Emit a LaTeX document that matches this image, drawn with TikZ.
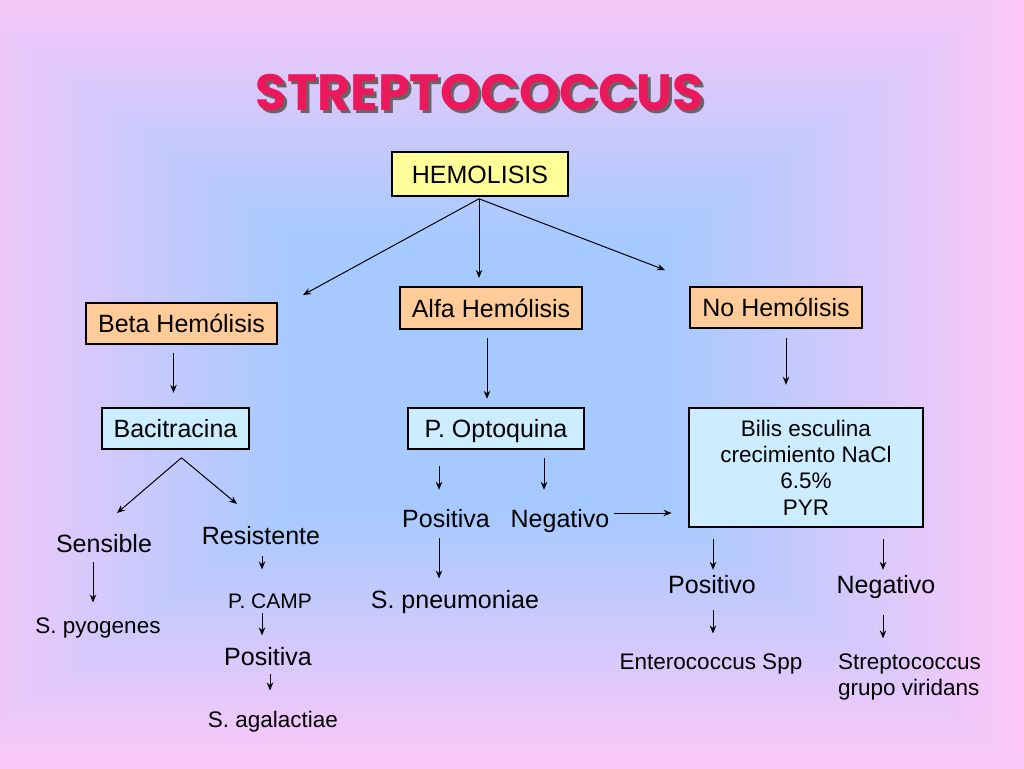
\documentclass[tikz,border=0pt]{standalone}
\usepackage{fontspec}
\setmainfont{Liberation Sans}
\newfontfamily\titlefont{Poppins}
\usepackage{tikz}
\usetikzlibrary{arrows.meta}

\definecolor{bgpink}{RGB}{252,200,248}
\definecolor{bgblue}{RGB}{166,202,255}
\definecolor{boxyellow}{RGB}{255,255,153}
\definecolor{boxpeach}{RGB}{255,204,153}
\definecolor{boxcyan}{RGB}{204,236,255}
\definecolor{titlered}{RGB}{236,24,92}

\begin{document}
\begin{tikzpicture}[x=1pt,y=-1pt,>={Stealth[length=8pt,width=6.5pt]},
		box/.style={draw,line width=1.6pt,inner sep=0pt,font=\fontsize{25}{30}\selectfont},
		cell/.style={box,text height=22pt,text depth=4pt},
		big/.style={anchor=base,inner sep=0pt,font=\fontsize{25}{30}\selectfont},
		small/.style={anchor=base,inner sep=0pt,font=\fontsize{22.5}{26}\selectfont},
		arr/.style={->,line width=1pt}]
			\useasboundingbox (0,0) rectangle (1024,768);
			\begin{scope}
				\clip (0,0) rectangle (1024,768);
				\foreach \i in {0,...,40} {
					\pgfmathsetmacro\s{1-0.65*\i/40}
					\pgfmathsetmacro\f{100*\i/40}
					\fill[bgblue!\f!bgpink] (480-545*\s,375-395*\s) rectangle (480+545*\s,375+395*\s);
				}
			\end{scope}
			% title
			\node[text=black!60,font=\titlefont\bfseries\fontsize{51}{55}\selectfont] at (483,96) {STREPTOCOCCUS};
			\node[text=titlered,font=\titlefont\bfseries\fontsize{51}{55}\selectfont] (title) at (480,93) {STREPTOCOCCUS};
			% boxes
			\node[cell,fill=boxyellow,minimum width=176,minimum height=44] (hemo) at (480,174) {HEMOLISIS};
			\node[cell,fill=boxpeach,minimum width=191,minimum height=41] (beta) at (181.5,323.5) {Beta Hemólisis};
			\node[cell,fill=boxpeach,minimum width=182,minimum height=42] (alfa) at (491,308) {Alfa Hemólisis};
			\node[cell,fill=boxpeach,minimum width=172,minimum height=41] (noh) at (776,307.5) {No Hemólisis};
			\node[cell,fill=boxcyan,minimum width=147,minimum height=41] (bac) at (175.5,428.5) {Bacitracina};
			\node[cell,fill=boxcyan,minimum width=176,minimum height=41] (opto) at (496,428.5) {P. Optoquina};
			\node[box,fill=boxcyan,minimum width=234,minimum height=119,align=center,
				font=\fontsize{22.5}{26.3}\selectfont] (bilis) at (806,467.5) {Bilis esculina\\crecimiento NaCl\\6.5\%\\PYR};
			% results
			\node[big] (sens) at (104,552) {Sensible};
			\node[big] (resis) at (261,544) {Resistente};
			\node[small] (pyog) at (98,633) {S. pyogenes};
			\node[small,font=\fontsize{21}{25}\selectfont] (camp) at (270,608) {P. CAMP};
			\node[big] (posb) at (268,665) {Positiva};
			\node[small] (agal) at (273,727) {S. agalactiae};
			\node[big] (posa) at (446,527) {Positiva};
			\node[big] (nega) at (560,527) {Negativo};
			\node[big] (pneu) at (455,608) {S. pneumoniae};
			\node[big] (poso) at (712,593) {Positivo};
			\node[big] (nego) at (886,593) {Negativo};
			\node[small] (entero) at (711,669) {Enterococcus Spp};
			\node[small,anchor=base west,align=left] (strep) at (838,695) {Streptococcus\\grupo viridans};
			% arrows
			\draw[arr] (hemo.south) ++(-1,2) coordinate (fork) -- (303,295);
			\draw[arr] (fork) -- (479,278);
			\draw[arr] (fork) -- (665,270);
			\draw[arr] (beta.south) ++(-8,8) -- ++(0,40);
			\draw[arr] (bac.south) ++(6,8) coordinate (split) -- (117,513);
			\draw[arr] (split) -- (237,504);
			\draw[arr] (sens.south) ++(-11,10) -- ++(0,40);
			\draw[arr] (resis.south) ++(1,12) -- ++(0,13);
			\draw[arr] (camp.south) ++(-8,5) -- ++(0,22);
			\draw[arr] (posb.south) ++(2,9) -- ++(0,16);
			\draw[arr] (alfa.south) ++(-4,8) -- ++(0,61);
			\draw[arr] (opto.south) ++(-57,16) -- ++(0,24);
			\draw[arr] (opto.south) ++(48,8) -- ++(0,32);
			\draw[arr] (posa.south) ++(-7,11) -- ++(0,40);
			\draw[arr] (nega.base east) ++(4,-14) -- ++(58,0);
			\draw[arr] (noh.south) ++(10,9) -- ++(0,47);
			\draw[arr] (bilis.south) ++(-93,11) -- ++(0,31);
			\draw[arr] (bilis.south) ++(77,11) -- ++(0,31);
			\draw[arr] (poso.south) ++(1,17) -- ++(0,23);
			\draw[arr] (nego.south) ++(-3,17) -- ++(0,23);
		\end{tikzpicture}
\end{document}
